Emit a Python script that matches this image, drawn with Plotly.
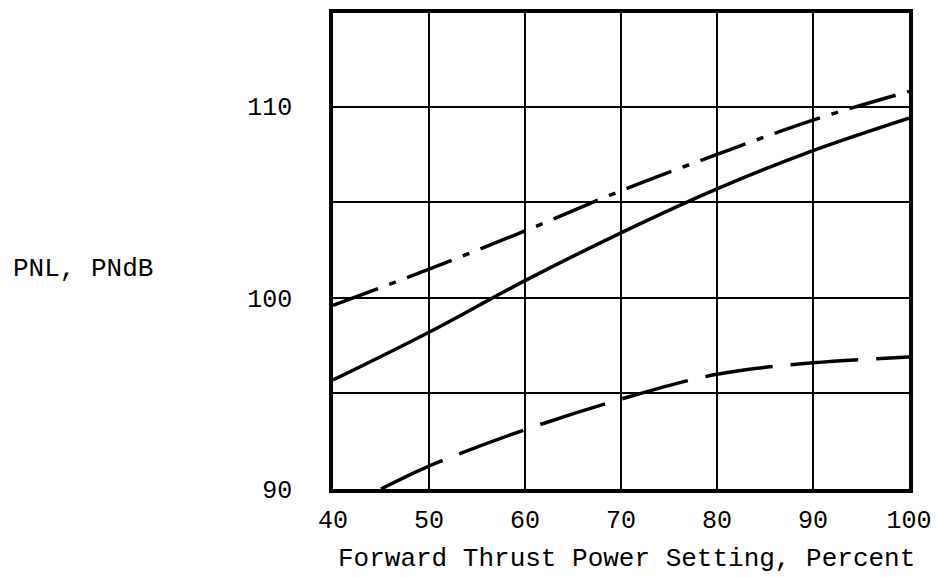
import plotly.graph_objects as go

# Data
x_dashdot = [40, 50, 60, 70, 80, 90, 100]
y_dashdot = [99.6, 101.5, 103.5, 105.6, 107.5, 109.3, 110.8]

x_solid = [40, 50, 60, 70, 80, 90, 100]
y_solid = [95.7, 98.2, 100.9, 103.4, 105.7, 107.7, 109.4]

x_dashed = [45, 50, 60, 70, 80, 90, 100]
y_dashed = [90.0, 91.2, 93.1, 94.7, 96.0, 96.6, 96.9]

x_ticks = [40, 50, 60, 70, 80, 90, 100]
x_ticktext = ["40", "50", "60", "70", "80", "90", "100"]
y_ticks = [90, 95, 100, 105, 110]
y_ticktext = ["90", "", "100", "", "110"]

FONT = "Liberation Mono, Courier New, monospace"

fig = go.Figure()
fig.add_trace(go.Scatter(x=x_dashdot, y=y_dashdot, mode="lines",
                         line=dict(color="black", width=3.5, shape="spline",
                                   dash="48px,12px,7px,12px"),
                         showlegend=False))
fig.add_trace(go.Scatter(x=x_solid, y=y_solid, mode="lines",
                         line=dict(color="black", width=3.5, shape="spline"),
                         showlegend=False))
fig.add_trace(go.Scatter(x=x_dashed, y=y_dashed, mode="lines",
                         line=dict(color="black", width=3.5, shape="spline",
                                   dash="68px,18px"),
                         showlegend=False))

fig.update_layout(
    width=942, height=577,
    margin=dict(l=333, r=33, t=9, b=88),
    paper_bgcolor="white", plot_bgcolor="white",
    font=dict(family=FONT, size=24, color="black"),
    xaxis=dict(range=[40, 100], tickvals=x_ticks, ticktext=x_ticktext,
               showgrid=True, gridcolor="black", gridwidth=2,
               showline=True, linecolor="black", linewidth=3.5, mirror=True,
               ticks="", ticklabelstandoff=5, zeroline=False,
               tickfont=dict(family=FONT, size=25)),
    yaxis=dict(range=[90, 114.9], tickvals=y_ticks, ticktext=y_ticktext,
               showgrid=True, gridcolor="black", gridwidth=2,
               showline=True, linecolor="black", linewidth=3.5, mirror=True,
               ticks="", ticklabelstandoff=32, zeroline=False,
               tickfont=dict(family=FONT, size=25)),
    annotations=[
        dict(text="Forward Thrust Power Setting, Percent", xref="paper", yref="paper",
             x=0.509, y=-0.148, xanchor="center", yanchor="middle", showarrow=False,
             font=dict(family=FONT, size=26)),
        dict(text="PNL, PNdB", xref="paper", yref="paper",
             x=-0.434, y=0.4625, xanchor="center", yanchor="middle", showarrow=False,
             font=dict(family=FONT, size=26)),
    ],
)

fig.write_html("out.html")
